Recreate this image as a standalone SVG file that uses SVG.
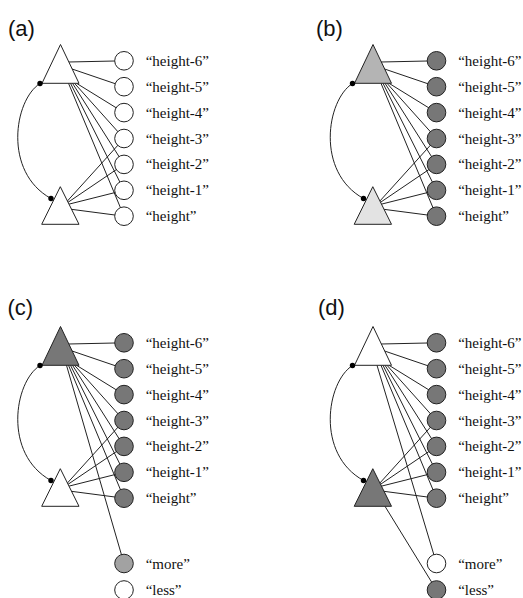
<svg xmlns="http://www.w3.org/2000/svg" width="523" height="598" viewBox="0 0 523 598">
<defs>
<style>
.lbl{font-family:"Liberation Serif","Times New Roman",serif;font-size:15px;fill:#111}
.pl{font-family:"Liberation Sans",Arial,sans-serif;font-size:22px;fill:#111}
.c{fill:none;stroke:#222;stroke-width:1}
.n{stroke:#222;stroke-width:1}
.w{fill:#fff}.g{fill:#777}.lg{fill:#b4b4b4}.xl{fill:#e3e3e3}.mg{fill:#a2a2a2}
.dot{fill:#000}
</style>
</defs>
<rect width="523" height="598" fill="#fff"/>
<text class="pl" x="8" y="36">(a)</text>
<text class="pl" x="316" y="36">(b)</text>
<text class="pl" x="7.5" y="315">(c)</text>
<text class="pl" x="318" y="315">(d)</text>

<!-- Panel a -->
<g id="panel-a">
<g id="a-connectors" class="c">
<path d="M40,83.5 C14,100 3,172 51,198.5"/>
<line x1="68.5" y1="62" x2="124" y2="60.8"/>
<line x1="70" y1="68.3" x2="124" y2="86.7"/>
<line x1="76.5" y1="83.3" x2="124" y2="112.6"/>
<line x1="74.5" y1="83.3" x2="124" y2="138.5"/>
<line x1="72.5" y1="83.3" x2="124" y2="164.4"/>
<line x1="70.5" y1="83.3" x2="124" y2="190.3"/>
<line x1="68.5" y1="83.3" x2="124" y2="216.2"/>
<line x1="66.5" y1="202" x2="124" y2="138.5"/>
<line x1="67" y1="203" x2="124" y2="164.4"/>
<line x1="67.5" y1="204.5" x2="124" y2="190.3"/>
<line x1="69" y1="209" x2="124" y2="216.2"/>
</g>
<g id="a-top"><polygon class="n w" points="60.5,44.5 42,83.3 79,83.3"/><circle class="dot" cx="40" cy="83.5" r="2.7"/></g>
<g id="a-bottom"><polygon class="n w" points="60.3,186.7 41.7,224.3 79,224.3"/><circle class="dot" cx="51" cy="198.5" r="2.7"/></g>
<g id="a-h6"><circle class="n w" cx="124" cy="60.8" r="9.3"/><text class="lbl" x="145.7" y="65.8">“height-6”</text></g>
<g id="a-h5"><circle class="n w" cx="124" cy="86.7" r="9.3"/><text class="lbl" x="145.7" y="91.7">“height-5”</text></g>
<g id="a-h4"><circle class="n w" cx="124" cy="112.6" r="9.3"/><text class="lbl" x="145.7" y="117.6">“height-4”</text></g>
<g id="a-h3"><circle class="n w" cx="124" cy="138.5" r="9.3"/><text class="lbl" x="145.7" y="143.5">“height-3”</text></g>
<g id="a-h2"><circle class="n w" cx="124" cy="164.4" r="9.3"/><text class="lbl" x="145.7" y="169.4">“height-2”</text></g>
<g id="a-h1"><circle class="n w" cx="124" cy="190.3" r="9.3"/><text class="lbl" x="145.7" y="195.3">“height-1”</text></g>
<g id="a-h0"><circle class="n w" cx="124" cy="216.2" r="9.3"/><text class="lbl" x="145.7" y="221.2">“height”</text></g>
</g>

<!-- Panel b -->
<g id="panel-b" transform="translate(312.5,0)">
<g id="b-connectors" class="c">
<path d="M40,83.5 C14,100 3,172 51,198.5"/>
<line x1="68.5" y1="62" x2="124" y2="60.8"/>
<line x1="70" y1="68.3" x2="124" y2="86.7"/>
<line x1="76.5" y1="83.3" x2="124" y2="112.6"/>
<line x1="74.5" y1="83.3" x2="124" y2="138.5"/>
<line x1="72.5" y1="83.3" x2="124" y2="164.4"/>
<line x1="70.5" y1="83.3" x2="124" y2="190.3"/>
<line x1="68.5" y1="83.3" x2="124" y2="216.2"/>
<line x1="66.5" y1="202" x2="124" y2="138.5"/>
<line x1="67" y1="203" x2="124" y2="164.4"/>
<line x1="67.5" y1="204.5" x2="124" y2="190.3"/>
<line x1="69" y1="209" x2="124" y2="216.2"/>
</g>
<g id="b-top"><polygon class="n lg" points="60.5,44.5 42,83.3 79,83.3"/><circle class="dot" cx="40" cy="83.5" r="2.7"/></g>
<g id="b-bottom"><polygon class="n xl" points="60.3,186.7 41.7,224.3 79,224.3"/><circle class="dot" cx="51" cy="198.5" r="2.7"/></g>
<g id="b-h6"><circle class="n g" cx="124" cy="60.8" r="9.3"/><text class="lbl" x="145.7" y="65.8">“height-6”</text></g>
<g id="b-h5"><circle class="n g" cx="124" cy="86.7" r="9.3"/><text class="lbl" x="145.7" y="91.7">“height-5”</text></g>
<g id="b-h4"><circle class="n g" cx="124" cy="112.6" r="9.3"/><text class="lbl" x="145.7" y="117.6">“height-4”</text></g>
<g id="b-h3"><circle class="n g" cx="124" cy="138.5" r="9.3"/><text class="lbl" x="145.7" y="143.5">“height-3”</text></g>
<g id="b-h2"><circle class="n g" cx="124" cy="164.4" r="9.3"/><text class="lbl" x="145.7" y="169.4">“height-2”</text></g>
<g id="b-h1"><circle class="n g" cx="124" cy="190.3" r="9.3"/><text class="lbl" x="145.7" y="195.3">“height-1”</text></g>
<g id="b-h0"><circle class="n g" cx="124" cy="216.2" r="9.3"/><text class="lbl" x="145.7" y="221.2">“height”</text></g>
</g>

<!-- Panel c -->
<g id="panel-c" transform="translate(0,282)">
<g id="c-connectors" class="c">
<path d="M40,83.5 C14,100 3,172 51,198.5"/>
<line x1="68.5" y1="62" x2="124" y2="60.8"/>
<line x1="70" y1="68.3" x2="124" y2="86.7"/>
<line x1="76.5" y1="83.3" x2="124" y2="112.6"/>
<line x1="74.5" y1="83.3" x2="124" y2="138.5"/>
<line x1="72.5" y1="83.3" x2="124" y2="164.4"/>
<line x1="70.5" y1="83.3" x2="124" y2="190.3"/>
<line x1="68.5" y1="83.3" x2="124" y2="216.2"/>
<line x1="66.5" y1="83.3" x2="124" y2="281.5"/>
<line x1="66.5" y1="202" x2="124" y2="138.5"/>
<line x1="67" y1="203" x2="124" y2="164.4"/>
<line x1="67.5" y1="204.5" x2="124" y2="190.3"/>
<line x1="69" y1="209" x2="124" y2="216.2"/>
</g>
<g id="c-top"><polygon class="n g" points="60.5,44.5 42,83.3 79,83.3"/><circle class="dot" cx="40" cy="83.5" r="2.7"/></g>
<g id="c-bottom"><polygon class="n w" points="60.3,186.7 41.7,224.3 79,224.3"/><circle class="dot" cx="51" cy="198.5" r="2.7"/></g>
<g id="c-h6"><circle class="n g" cx="124" cy="60.8" r="9.3"/><text class="lbl" x="145.7" y="65.8">“height-6”</text></g>
<g id="c-h5"><circle class="n g" cx="124" cy="86.7" r="9.3"/><text class="lbl" x="145.7" y="91.7">“height-5”</text></g>
<g id="c-h4"><circle class="n g" cx="124" cy="112.6" r="9.3"/><text class="lbl" x="145.7" y="117.6">“height-4”</text></g>
<g id="c-h3"><circle class="n g" cx="124" cy="138.5" r="9.3"/><text class="lbl" x="145.7" y="143.5">“height-3”</text></g>
<g id="c-h2"><circle class="n g" cx="124" cy="164.4" r="9.3"/><text class="lbl" x="145.7" y="169.4">“height-2”</text></g>
<g id="c-h1"><circle class="n g" cx="124" cy="190.3" r="9.3"/><text class="lbl" x="145.7" y="195.3">“height-1”</text></g>
<g id="c-h0"><circle class="n g" cx="124" cy="216.2" r="9.3"/><text class="lbl" x="145.7" y="221.2">“height”</text></g>
<g id="c-more"><circle class="n mg" cx="124" cy="281.5" r="9.3"/><text class="lbl" x="145.7" y="286.5">“more”</text></g>
<g id="c-less"><circle class="n w" cx="124" cy="308" r="9.3"/><text class="lbl" x="145.7" y="313">“less”</text></g>
</g>

<!-- Panel d -->
<g id="panel-d" transform="translate(312.5,282)">
<g id="d-connectors" class="c">
<path d="M40,83.5 C14,100 3,172 51,198.5"/>
<line x1="68.5" y1="62" x2="124" y2="60.8"/>
<line x1="70" y1="68.3" x2="124" y2="86.7"/>
<line x1="76.5" y1="83.3" x2="124" y2="112.6"/>
<line x1="74.5" y1="83.3" x2="124" y2="138.5"/>
<line x1="72.5" y1="83.3" x2="124" y2="164.4"/>
<line x1="70.5" y1="83.3" x2="124" y2="190.3"/>
<line x1="68.5" y1="83.3" x2="124" y2="216.2"/>
<line x1="64.5" y1="83.3" x2="124" y2="281.5"/>
<line x1="66.5" y1="202" x2="124" y2="138.5"/>
<line x1="67" y1="203" x2="124" y2="164.4"/>
<line x1="67.5" y1="204.5" x2="124" y2="190.3"/>
<line x1="69" y1="209" x2="124" y2="216.2"/>
<line x1="72.5" y1="224.3" x2="124" y2="308"/>
</g>
<g id="d-top"><polygon class="n w" points="60.5,44.5 42,83.3 79,83.3"/><circle class="dot" cx="40" cy="83.5" r="2.7"/></g>
<g id="d-bottom"><polygon class="n g" points="60.3,186.7 41.7,224.3 79,224.3"/><circle class="dot" cx="51" cy="198.5" r="2.7"/></g>
<g id="d-h6"><circle class="n g" cx="124" cy="60.8" r="9.3"/><text class="lbl" x="145.7" y="65.8">“height-6”</text></g>
<g id="d-h5"><circle class="n g" cx="124" cy="86.7" r="9.3"/><text class="lbl" x="145.7" y="91.7">“height-5”</text></g>
<g id="d-h4"><circle class="n g" cx="124" cy="112.6" r="9.3"/><text class="lbl" x="145.7" y="117.6">“height-4”</text></g>
<g id="d-h3"><circle class="n g" cx="124" cy="138.5" r="9.3"/><text class="lbl" x="145.7" y="143.5">“height-3”</text></g>
<g id="d-h2"><circle class="n g" cx="124" cy="164.4" r="9.3"/><text class="lbl" x="145.7" y="169.4">“height-2”</text></g>
<g id="d-h1"><circle class="n g" cx="124" cy="190.3" r="9.3"/><text class="lbl" x="145.7" y="195.3">“height-1”</text></g>
<g id="d-h0"><circle class="n g" cx="124" cy="216.2" r="9.3"/><text class="lbl" x="145.7" y="221.2">“height”</text></g>
<g id="d-more"><circle class="n w" cx="124" cy="281.5" r="9.3"/><text class="lbl" x="145.7" y="286.5">“more”</text></g>
<g id="d-less"><circle class="n g" cx="124" cy="308" r="9.3"/><text class="lbl" x="145.7" y="313">“less”</text></g>
</g>
</svg>
